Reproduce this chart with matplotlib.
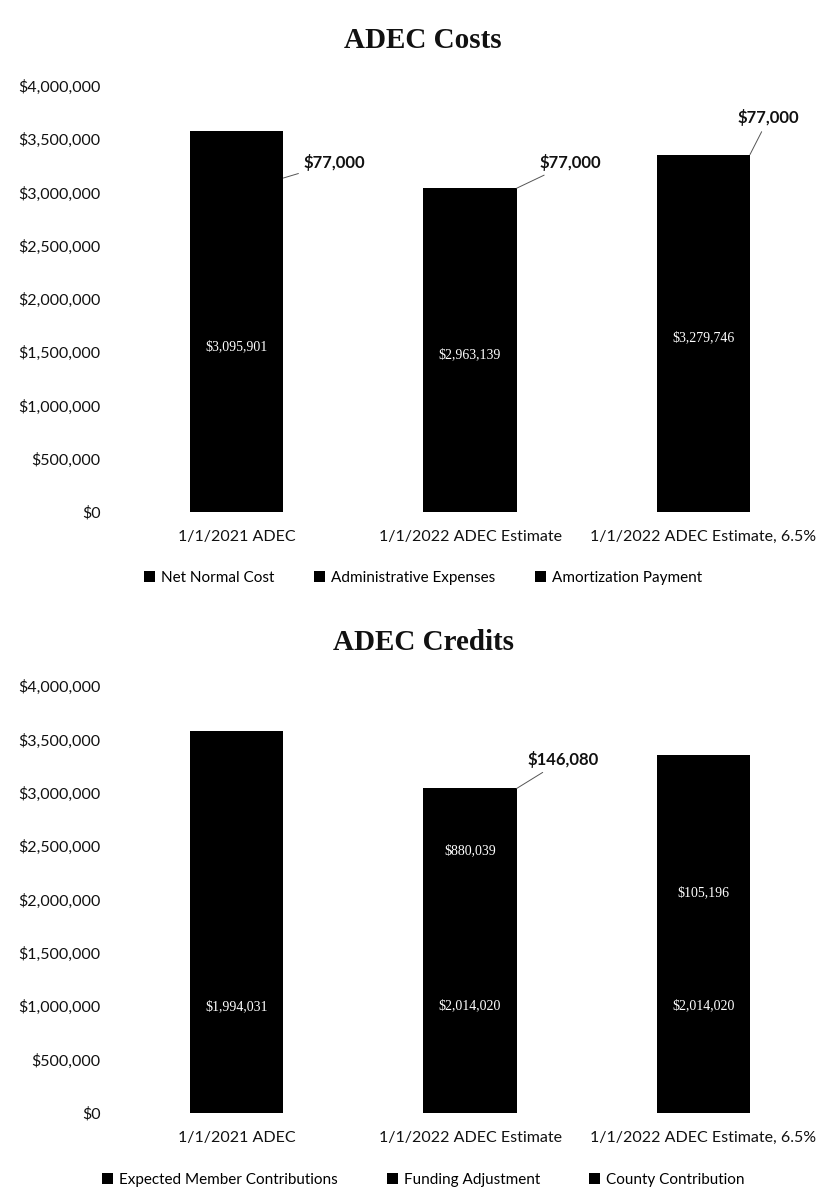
import matplotlib.pyplot as plt
from matplotlib.ticker import FuncFormatter

# categories
categories = ['1/1/2021 ADEC', '1/1/2022 ADEC Estimate', '1/1/2022 ADEC Estimate, 6.5%']

# ADEC costs
net_normal_cost = [3095901, 2963139, 3279746]
admin_expenses = [77000, 77000, 77000]
amortization = [406000, 0, 0]

# ADEC credits
member_contrib = [1994031, 2014020, 2014020]
funding_adj = [0, 880039, 105196]
county_contrib = [1584870, 146080, 1237530]

yticks = [0, 500000, 1000000, 1500000, 2000000, 2500000, 3000000, 3500000, 4000000]

plt.rcParams['font.family'] = ['Lato', 'DejaVu Sans']

fig = plt.figure(figsize=(8.3, 12.04), dpi=100)
W, H = 830, 1204


def money(v, pos=None):
    return '${:,.0f}'.format(v)


def setup_axes(ax):
    ax.set_xlim(-0.5, 2.5)
    ax.set_ylim(0, 4000000)
    ax.set_yticks(yticks)
    ax.yaxis.set_major_formatter(FuncFormatter(money))
    ax.set_xticks(range(len(categories)))
    ax.set_xticklabels(categories)
    ax.tick_params(axis='y', length=0, pad=14, labelsize=11.5, labelcolor='#111111')
    ax.tick_params(axis='x', length=0, pad=13, labelsize=11.5, labelcolor='#111111')
    for s in ax.spines.values():
        s.set_visible(False)
    ax.axhline(0, color='#bbbbbb', lw=0.6, ls=':')


def inside_labels(ax, bars, values, show):
    for b, v, s in zip(bars, values, show):
        if not s:
            continue
        ax.text(b.get_x() + b.get_width() / 2, b.get_y() + b.get_height() / 2, money(v),
                ha='center', va='center', color='white', fontsize=10,
                family=['Liberation Serif', 'DejaVu Serif'])


def callout(ax, text, xy, xytext):
    ax.annotate(text, xy=xy, xytext=xytext, ha='center', va='center',
                fontsize=12, fontweight='bold', color='#111111',
                arrowprops=dict(arrowstyle='-', color='#555555', lw=0.7,
                                shrinkA=2, shrinkB=0))


x = list(range(len(categories)))
bw = 0.4

# ---- ADEC Costs ----
ax1 = fig.add_axes([120 / W, (H - 512) / H, 700 / W, 426 / H])
b1 = ax1.bar(x, net_normal_cost, bw, color='black', label='Net Normal Cost')
bottom2 = [a + b for a, b in zip(net_normal_cost, admin_expenses)]
b2 = ax1.bar(x, admin_expenses, bw, bottom=net_normal_cost, color='black',
             label='Administrative Expenses')
b3 = ax1.bar(x, amortization, bw, bottom=bottom2, color='black',
             label='Amortization Payment')
setup_axes(ax1)
inside_labels(ax1, b1, net_normal_cost, [True, True, True])
callout(ax1, money(admin_expenses[0]), (0.2, net_normal_cost[0] + 40000), (0.42, 3280000))
callout(ax1, money(admin_expenses[1]), (1.2, bottom2[1]), (1.43, 3280000))
callout(ax1, money(admin_expenses[2]), (2.2, bottom2[2]), (2.28, 3700000))
fig.text(0.51, 1 - 40 / H, 'ADEC Costs', ha='center', va='center', fontsize=21,
         fontweight='bold', family=['Liberation Serif', 'DejaVu Serif'], color='#111111')
fig.legend(handles=[b1, b2, b3], loc='center', bbox_to_anchor=(0.51, 1 - 578 / H),
           ncol=3, frameon=False, fontsize=11, handlelength=0.7, handleheight=0.7,
           handletextpad=0.4, columnspacing=2.6)

# ---- ADEC Credits ----
ax2 = fig.add_axes([120 / W, (H - 1113) / H, 700 / W, 427 / H])
c1 = ax2.bar(x, member_contrib, bw, color='black', label='Expected Member Contributions')
c2 = ax2.bar(x, funding_adj, bw, bottom=member_contrib, color='black',
             label='Funding Adjustment')
bottom3 = [a + b for a, b in zip(member_contrib, funding_adj)]
c3 = ax2.bar(x, county_contrib, bw, bottom=bottom3, color='black',
             label='County Contribution')
setup_axes(ax2)
inside_labels(ax2, c1, member_contrib, [True, True, True])
inside_labels(ax2, c2, funding_adj, [False, True, True])
callout(ax2, money(county_contrib[1]), (1.2, bottom3[1] + county_contrib[1]), (1.4, 3310000))
fig.text(0.51, 1 - 642 / H, 'ADEC Credits', ha='center', va='center', fontsize=21,
         fontweight='bold', family=['Liberation Serif', 'DejaVu Serif'], color='#111111')
fig.legend(handles=[c1, c2, c3], loc='center', bbox_to_anchor=(0.51, 1 - 1180 / H),
           ncol=3, frameon=False, fontsize=11, handlelength=0.7, handleheight=0.7,
           handletextpad=0.4, columnspacing=3.2)

fig.savefig('out.png', dpi=100, facecolor='white')
